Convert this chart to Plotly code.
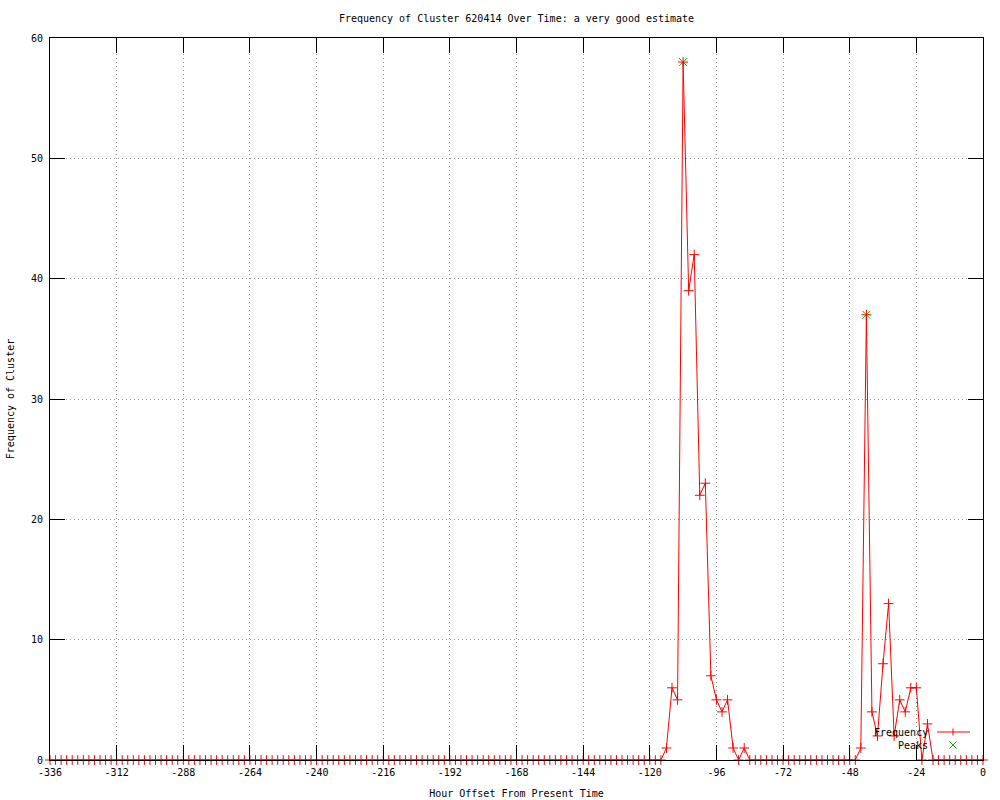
import plotly.graph_objects as go

# ---- data ----
hours = list(range(-336, 1, 2))
frequency = [
    0, 0, 0, 0, 0, 0, 0, 0, 0, 0, 0, 0,        # -336 .. -314
    0, 0, 0, 0, 0, 0, 0, 0, 0, 0, 0, 0,        # -312 .. -290
    0, 0, 0, 0, 0, 0, 0, 0, 0, 0, 0, 0,        # -288 .. -266
    0, 0, 0, 0, 0, 0, 0, 0, 0, 0, 0, 0,        # -264 .. -242
    0, 0, 0, 0, 0, 0, 0, 0, 0, 0, 0, 0,        # -240 .. -218
    0, 0, 0, 0, 0, 0, 0, 0, 0, 0, 0, 0,        # -216 .. -194
    0, 0, 0, 0, 0, 0, 0, 0, 0, 0, 0, 0,        # -192 .. -170
    0, 0, 0, 0, 0, 0, 0, 0, 0, 0, 0, 0,        # -168 .. -146
    0, 0, 0, 0, 0, 0, 0, 0, 0, 0, 0, 0,        # -144 .. -122
    0, 0, 0, 1, 6, 5, 58, 39, 42, 22, 23, 7,   # -120 .. -98
    5, 4, 5, 1, 0, 1, 0, 0, 0, 0, 0, 0,        # -96 .. -74
    0, 0, 0, 0, 0, 0, 0, 0, 0, 0, 0, 0,        # -72 .. -50
    0, 0, 1, 37, 4, 2, 8, 13, 2, 5, 4, 6,      # -48 .. -26
    6, 0, 3, 0, 0, 0, 0, 0, 0, 0, 0, 0,        # -24 .. -2
    0,                                         # 0
]
peak_hours = [-108, -42]
peak_values = [58, 37]

x_tickvals = [-336, -312, -288, -264, -240, -216, -192, -168, -144, -120, -96, -72, -48, -24, 0]
x_ticktext = ["-336", "-312", "-288", "-264", "-240", "-216", "-192", "-168", "-144", "-120",
              "-96", "-72", "-48", "-24", "0"]
y_tickvals = [0, 10, 20, 30, 40, 50, 60]
y_ticktext = ["0", "10", "20", "30", "40", "50", "60"]

title_text = "Frequency of Cluster 620414 Over Time: a very good estimate"
x_title = "Hour Offset From Present Time"
y_title = "Frequency of Cluster"
series_names = ["Frequency", "Peaks"]

FONT = "DejaVu Sans Mono"
RED = "#ff0000"
GREEN = "#00c000"
GRID = "#999999"

fig = go.Figure()
fig.add_trace(go.Scatter(
    x=peak_hours, y=peak_values, mode="markers", name=series_names[1],
    marker=dict(symbol="x-thin", size=8, line=dict(color=GREEN, width=1)),
    cliponaxis=False, showlegend=False,
))
fig.add_trace(go.Scatter(
    x=hours, y=frequency, mode="lines+markers", name=series_names[0],
    line=dict(color=RED, width=1),
    marker=dict(symbol="cross-thin", size=7, line=dict(color=RED, width=1)),
    cliponaxis=False, showlegend=False,
))

# ---- manual gnuplot-style key (text left, sample right) ----
L, R, T, B = 50, 17, 38, 40
W, H = 1000, 800
pw, ph = W - L - R, H - T - B


def px(xp):
    return (xp - L) / pw


def py(yp):
    return (H - B - yp) / ph


key_rows = [732, 745]
text_right = 930
samp_x0, samp_x1, samp_c = 937, 970, 953
for name, yr in zip(series_names, key_rows):
    fig.add_annotation(xref="paper", yref="paper", x=px(text_right), y=py(yr),
                       text=name, showarrow=False, xanchor="right", yanchor="middle",
                       font=dict(family=FONT, size=10, color="black"))
shapes = []
yr = key_rows[0]
shapes.append(dict(type="line", xref="paper", yref="paper", x0=px(samp_x0), x1=px(samp_x1),
                   y0=py(yr), y1=py(yr), line=dict(color=RED, width=1)))
shapes.append(dict(type="line", xref="paper", yref="paper", x0=px(samp_c), x1=px(samp_c),
                   y0=py(yr - 3.5), y1=py(yr + 3.5), line=dict(color=RED, width=1)))
yr = key_rows[1]
shapes.append(dict(type="line", xref="paper", yref="paper", x0=px(samp_c - 3.5), x1=px(samp_c + 3.5),
                   y0=py(yr - 3.5), y1=py(yr + 3.5), line=dict(color=GREEN, width=1)))
shapes.append(dict(type="line", xref="paper", yref="paper", x0=px(samp_c - 3.5), x1=px(samp_c + 3.5),
                   y0=py(yr + 3.5), y1=py(yr - 3.5), line=dict(color=GREEN, width=1)))

fig.update_layout(
    width=W, height=H,
    margin=dict(l=L, r=R, t=T, b=B, autoexpand=False),
    paper_bgcolor="white", plot_bgcolor="white",
    font=dict(family=FONT, size=10, color="black"),
    title=dict(text=title_text, x=(L + pw / 2) / W, xanchor="center",
               y=1 - 18 / H, yanchor="middle", font=dict(family=FONT, size=10, color="black")),
    shapes=shapes,
    showlegend=False,
)
fig.update_xaxes(
    range=[-336, 0], tickvals=x_tickvals, ticktext=x_ticktext,
    showline=True, linecolor="black", linewidth=1, mirror="ticks",
    ticks="inside", ticklen=15, tickcolor="black", tickwidth=1,
    showgrid=True, gridcolor=GRID, griddash="1px,3px", gridwidth=1,
    zeroline=False, automargin=False, ticklabelstandoff=3,
    title=dict(text=x_title, standoff=12, font=dict(family=FONT, size=10)),
    tickfont=dict(family=FONT, size=10),
)
fig.update_yaxes(
    range=[0, 60], tickvals=y_tickvals, ticktext=y_ticktext,
    showline=True, linecolor="black", linewidth=1, mirror="ticks",
    ticks="inside", ticklen=15, tickcolor="black", tickwidth=1,
    showgrid=True, gridcolor=GRID, griddash="1px,3px", gridwidth=1,
    zeroline=False, automargin=False, ticklabelstandoff=4,
    title=dict(text=y_title, standoff=14, font=dict(family=FONT, size=10)),
    tickfont=dict(family=FONT, size=10),
)

fig.write_html("out.html", config={"displayModeBar": False},
               post_script="document.body.style.margin='0';")
